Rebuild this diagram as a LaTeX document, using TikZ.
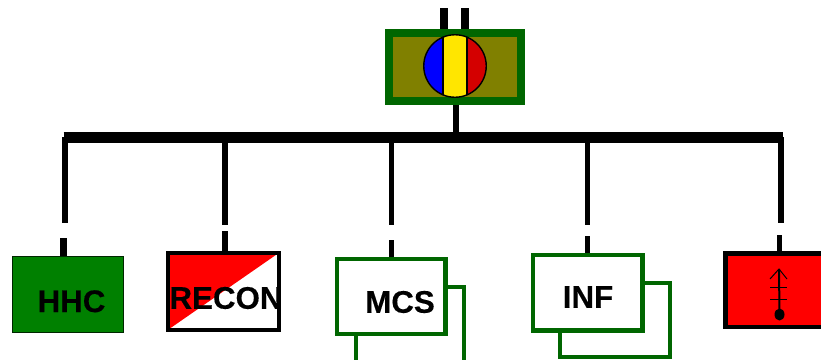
\documentclass[tikz,border=0pt]{standalone}
\usetikzlibrary{shapes.geometric}
\usepackage{fontspec}
\setmainfont{Liberation Sans}[BoldFeatures={FakeBold=0.3}]
\definecolor{dgreen}{HTML}{006600}
\definecolor{hhcgreen}{HTML}{008000}
\definecolor{oliv}{HTML}{808000}
\definecolor{yel}{HTML}{FFE600}
\definecolor{redd}{HTML}{D40000}
\tikzset{
  lbl/.style={font=\bfseries\fontsize{31.3}{36}\selectfont,inner sep=0pt,text=black},
  unitbox/.style={draw=dgreen,line width=4.5pt,fill=white,inner sep=0pt},
  backbox/.style={draw=dgreen,line width=4pt,fill=white,inner sep=0pt},
  conn/.style={draw=black,line width=6pt},
}
\begin{document}
\begin{tikzpicture}[x=1pt,y=-1pt]
\useasboundingbox (0,0) rectangle (821,359);
\clip (0,0) rectangle (821,359);
% headquarters
\node[draw=dgreen,line width=8pt,fill=oliv,minimum width=132pt,minimum height=68pt,inner sep=0pt] (hq) at (455,67.3) {};
\node[circle,minimum size=62.5pt,inner sep=0pt,line width=1.4pt,draw=black,
  path picture={
    \fill[blue] (-40,-40) rectangle (-12,40);
    \fill[yel] (-12,-40) rectangle (12,40);
    \fill[redd] (12,-40) rectangle (40,40);
    \draw[line width=1.4pt] (-12,-40) -- (-12,40) (12,-40) -- (12,40);
  }] (badge) at (455,66) {};
\coordinate (s1) at (443.7,8);
\coordinate (s2) at (465.3,8);
\draw[line width=8pt] (s1) -- (s1 |- hq.north);
\draw[line width=8pt] (s2) -- (s2 |- hq.north);
% bus
\coordinate (busl) at (63.5,137);
\coordinate (busr) at (783,137);
\draw[line width=11pt] (busl) -- (busr);
\coordinate (hqdrop) at (456,137);
\draw[conn] (hq.south -| hqdrop) -- (hqdrop);
% back boxes
\node[backbox,minimum width=108pt,minimum height=90pt] (mcsb) at (409.7,331.7) {};
\node[backbox,minimum width=109.4pt,minimum height=73.7pt] (infb) at (615,320.2) {};
% unit boxes
\node[draw=black!70!hhcgreen,line width=1pt,fill=hhcgreen,minimum width=110.5pt,minimum height=76pt,inner sep=0pt] (hhc) at (68,294.7) {};
\node[draw=black,line width=4pt,inner sep=0pt,minimum width=111pt,minimum height=77pt,fill=white,
  path picture={\fill[red] (path picture bounding box.south west) -- (path picture bounding box.north west) -- (path picture bounding box.north east) -- cycle;}] (recon) at (223.2,291.5) {};
\node[unitbox,minimum width=108.5pt,minimum height=75pt] (mcs) at (391.2,296.3) {};
\node[unitbox,minimum width=109.5pt,minimum height=75.5pt] (inf) at (587.7,292.7) {};
\node[draw=black,line width=4.5pt,fill=red,minimum width=120pt,minimum height=73.5pt,inner sep=0pt] (fwd) at (785.5,290.3) {};
% labels
\node[lbl] (thhc) at (71.5,301.3) {HHC};
\node[lbl] (trecon) at (226,298) {RECON};
\node[lbl] (tmcs) at (400,302) {MCS};
\node[lbl] (tinf) at (588,297) {INF};
% broken connectors
\coordinate (a1) at (65,137);  \coordinate (a2) at (65,223);
\coordinate (a3) at (63.5,238);
\draw[conn] (a1) -- (a2);
\draw[line width=7pt] (a3) -- (a3 |- hhc.north);
\coordinate (b1) at (225,137); \coordinate (b2) at (225,225);
\coordinate (b3) at (225,231);
\draw[conn] (b1) -- (b2);
\draw[conn] (b3) -- (b3 |- recon.north);
\coordinate (c1) at (391.7,137); \coordinate (c2) at (391.7,225);
\coordinate (c3) at (391.5,240);
\draw[line width=5.5pt] (c1) -- (c2);
\draw[line width=5.5pt] (c3) -- (c3 |- mcs.north);
\coordinate (d1) at (587.3,137); \coordinate (d2) at (587.3,225);
\coordinate (d3) at (587.3,236);
\draw[line width=5.5pt] (d1) -- (d2);
\draw[line width=5.5pt] (d3) -- (d3 |- inf.north);
\coordinate (e1) at (781,137); \coordinate (e2) at (781,223);
\coordinate (e3) at (779.3,235);
\draw[conn] (e1) -- (e2);
\draw[line width=5.5pt] (e3) -- (e3 |- fwd.north);
% symbol in the red box
\node[ellipse,fill=black,minimum width=10pt,minimum height=12pt,inner sep=0pt] (dot) at (779.5,314.5) {};
\coordinate (tip) at (779,269);
\draw[line width=2pt] (tip) -- (dot.center);
\draw[line width=1pt] (770,279) -- (tip) -- (787,279);
\draw[line width=1pt] (770,287) -- (787,287) (770,299.7) -- (787,299.7);
\end{tikzpicture}
\end{document}
